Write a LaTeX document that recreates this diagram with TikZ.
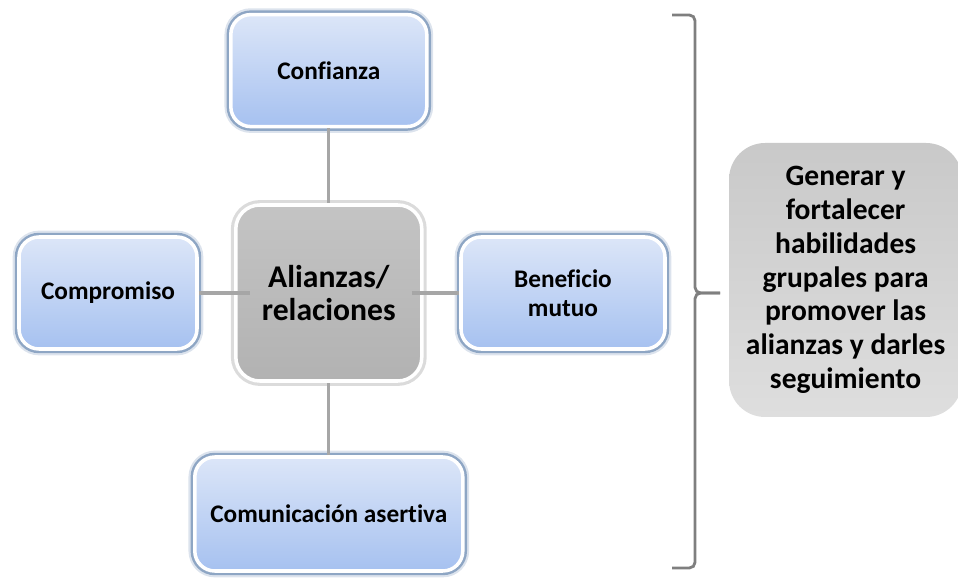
\documentclass[tikz,border=0pt]{standalone}
\usepackage{fontspec}
\setmainfont[Ligatures=NoCommon]{Carlito}
\usetikzlibrary{calc}

\definecolor{bluetop}{HTML}{DCE6F8}
\definecolor{bluebot}{HTML}{A6C1F0}
\definecolor{blueglow}{HTML}{4F73A3}
\definecolor{coretop}{HTML}{C4C4C4}
\definecolor{corebot}{HTML}{B2B2B2}
\definecolor{linegray}{HTML}{A6A6A6}
\definecolor{bracegray}{HTML}{7F7F7F}
\definecolor{goaltop}{HTML}{C9C9C9}
\definecolor{goalbot}{HTML}{DEDEDE}

\begin{document}
\begin{tikzpicture}[item/.style={rectangle, rounded corners=0.5cm, top color=bluetop, bottom color=bluebot, draw=white, line width=2.5pt, preaction={draw=blueglow, line width=9pt, opacity=0.2}, preaction={draw=blueglow, line width=6pt, opacity=0.55}, inner sep=0pt, align=center, font=\bfseries\fontsize{18}{21}\selectfont},
	core/.style={rectangle, rounded corners=0.6cm, top color=coretop, bottom color=corebot, draw=white, line width=2.5pt, preaction={draw=black!40, line width=7pt, opacity=0.35}, inner sep=0pt, align=center, font=\bfseries\fontsize{22.5}{24}\selectfont},
	goal/.style={rectangle, rounded corners=0.9cm, top color=goaltop, bottom color=goalbot, inner sep=0pt, align=center, font=\bfseries\fontsize{21}{24}\selectfont},
	link/.style={draw=linegray, line width=2.4pt},
	bracket/.style={draw=bracegray, line width=2pt, rounded corners=4pt}]

		\useasboundingbox (0,0) rectangle (23.95,14.425);
		\clip (0,0) rectangle (23.95,14.425);

		\node[core, minimum width=4.65cm, minimum height=4.4cm] (alianzas) at (8.22,7.1) {Alianzas/\\relaciones};

		\node[item, minimum width=4.9cm, minimum height=2.8cm] (confianza) at (8.22,12.66) {Confianza};
		\node[item, minimum width=4.45cm, minimum height=2.8cm] (compromiso) at (2.7,7.1) {Compromiso};
		\node[item, minimum width=5.1cm, minimum height=2.8cm] (beneficio) at (14.075,7.1) {Beneficio\\mutuo};
		\node[item, minimum width=6.7cm, minimum height=2.85cm] (comunicacion) at (8.22,1.575) {Comunicación asertiva};

		\node[goal, minimum width=5.825cm, minimum height=6.85cm] (meta) at (21.14,7.425) {Generar y\\fortalecer\\habilidades\\grupales para\\promover las\\alianzas y darles\\seguimiento};

		\draw[link] (confianza.south) -- (alianzas.north);
		\draw[link] (comunicacion.north) -- (alianzas.south);
		\draw[link] (compromiso.east) -- ([xshift=0.4cm]alianzas.west);
		\draw[link] ([xshift=-0.3cm]alianzas.east) -- (beneficio.west);

		% bracket
		\coordinate (brtop) at (16.8,14.05);
		\coordinate (brbot) at (16.8,0.225);
		\coordinate (brtip) at (18.0,7.1);
		\draw[bracket] (brtop) -| ($(brtip)+(-0.625,0)$) -- (brtip);
		\draw[bracket] (brbot) -| ($(brtip)+(-0.625,0)$) -- (brtip);
\end{tikzpicture}
\end{document}
